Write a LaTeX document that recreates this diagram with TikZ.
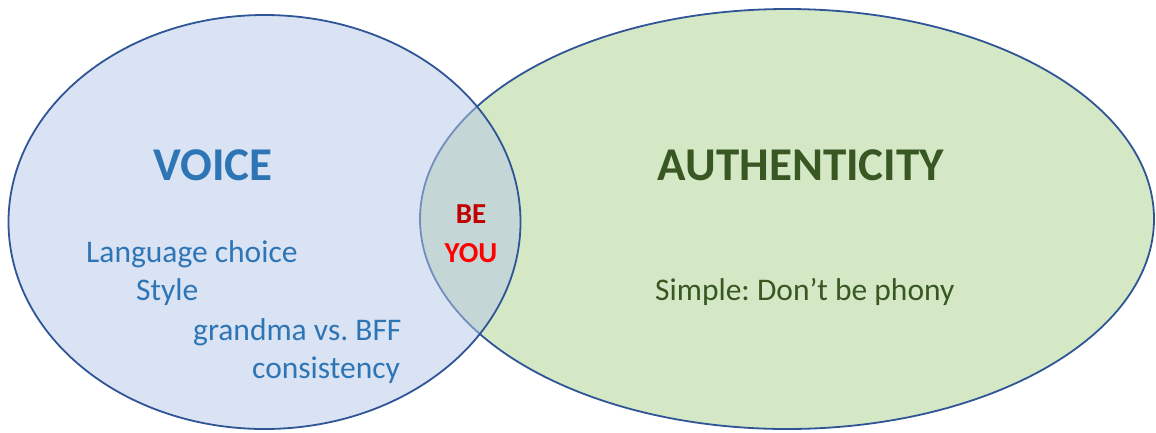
\documentclass[tikz,border=0pt]{standalone}
\usepackage{fontspec}
\setmainfont{Carlito}
\usetikzlibrary{positioning}
\frenchspacing

\definecolor{ringblue}{HTML}{2F5597}
\definecolor{voicefill}{HTML}{B4C7E7}
\definecolor{authfill}{HTML}{D5E8C6}
\definecolor{voicetext}{HTML}{2E75B6}
\definecolor{authtext}{HTML}{385723}
\definecolor{bered}{HTML}{C00000}
\definecolor{youred}{HTML}{FF0000}

\begin{document}
\begin{tikzpicture}[x=1pt,y=-1pt,
  ring/.style={draw=ringblue,line width=1.8pt},
  head/.style={font=\bfseries\fontsize{47}{50}\selectfont,anchor=base,inner sep=0pt},
  item/.style={font=\fontsize{31.5}{36}\selectfont,anchor=base west,inner sep=0pt},
  mid/.style={font=\bfseries\fontsize{29}{32}\selectfont,anchor=base,inner sep=0pt}]
\useasboundingbox (0,0) rectangle (1156,432);
% the two sets, voice laid over authenticity
\draw[ring,fill=authfill] (787,219) ellipse [x radius=367pt,y radius=210pt];
\draw[ring,fill=voicefill,fill opacity=0.5] (264.5,222) ellipse [x radius=256pt,y radius=207pt];
% headings
\node[head,text=voicetext] (voice) at (213,180) {VOICE};
\node[head,text=authtext] (auth) at (801,180) {AUTHENTICITY};
% overlap
\node[mid,text=bered] (be) at (471,223) {BE};
\node[mid,text=youred] (you) at (471,262) {YOU};
% voice items
\node[item,text=voicetext] (lang) at (86,262) {Language choice};
\node[item,text=voicetext] (style) at (136,300) {Style};
\node[item,text=voicetext] (bff) at (193,340) {grandma vs. BFF};
\node[item,text=voicetext] (cons) at (252,378) {consistency};
% authenticity item
\node[item,text=authtext] (phony) at (655,300) {Simple: Don’t be phony};
\end{tikzpicture}
\end{document}
